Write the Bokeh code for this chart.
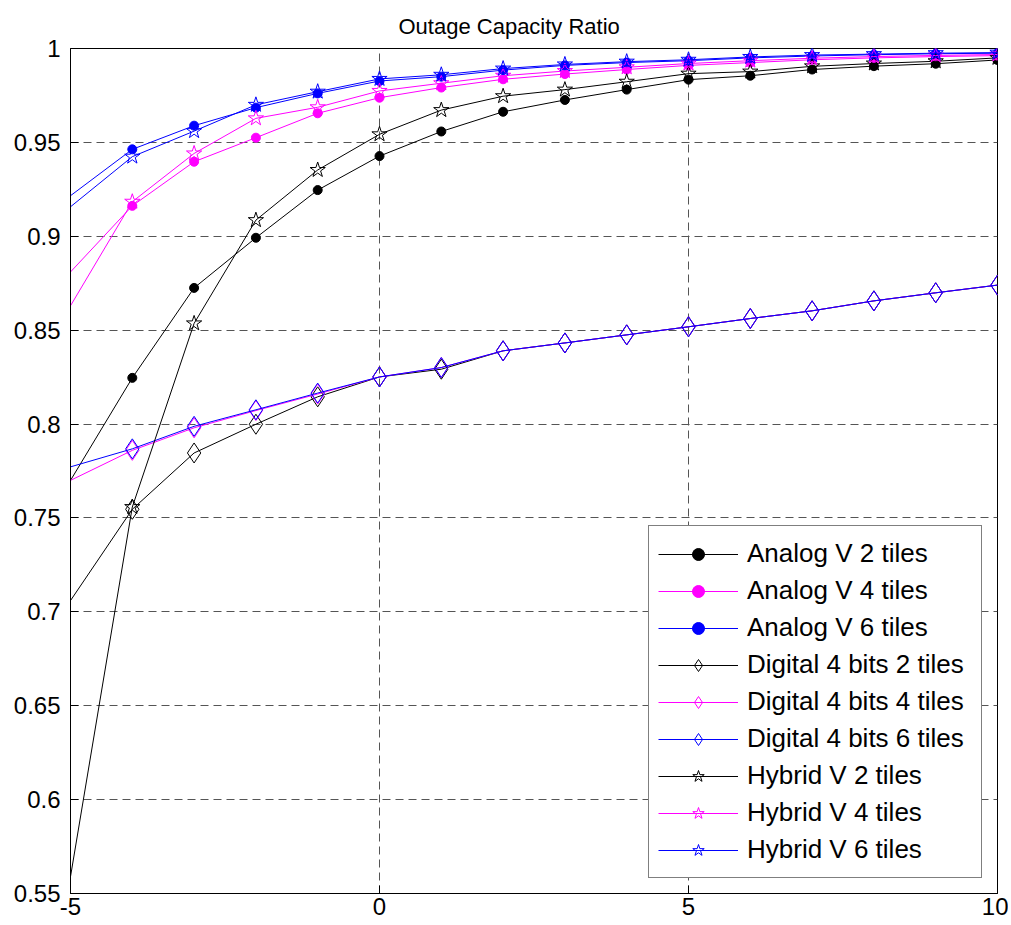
from bokeh.plotting import figure
from bokeh.models import Range1d, FixedTicker, PrintfTickFormatter
from bokeh.embed import file_html
from bokeh.resources import INLINE

# ---- data ----
# Lines enter the plot at the left edge (x = -5); markers are visible from x = -4 on.
snr = [-5, -4, -3, -2, -1, 0, 1, 2, 3, 4, 5, 6, 7, 8, 9, 10]

analog_v2 = [0.770, 0.8246, 0.8725, 0.8992, 0.9246, 0.9427, 0.9558, 0.9663, 0.9726, 0.9781,
             0.9834, 0.9855, 0.9888, 0.9906, 0.9919, 0.9939]
analog_v4 = [0.881, 0.9162, 0.9397, 0.9525, 0.9655, 0.9738, 0.9792, 0.9836, 0.9864, 0.9888,
             0.9910, 0.9925, 0.9940, 0.9950, 0.9957, 0.9962]
analog_v6 = [0.9216, 0.9463, 0.9589, 0.9685, 0.9761, 0.9827, 0.9850, 0.9885, 0.9910, 0.9925,
             0.9935, 0.9950, 0.9960, 0.9967, 0.9972, 0.9975]

digital_2 = [0.706, 0.7546, 0.7846, 0.7999, 0.8145, 0.8251, 0.8292, 0.8390, 0.8432, 0.8475,
             0.8518, 0.8562, 0.8603, 0.8656, 0.8699, 0.8740]
digital_4 = [0.770, 0.7860, 0.7980, 0.8072, 0.8160, 0.8251, 0.8301, 0.8390, 0.8432, 0.8475,
             0.8518, 0.8562, 0.8603, 0.8656, 0.8699, 0.8740]
digital_6 = [0.7772, 0.7868, 0.7988, 0.8076, 0.8165, 0.8251, 0.8301, 0.8390, 0.8432, 0.8475,
             0.8518, 0.8562, 0.8603, 0.8656, 0.8699, 0.8740]

hybrid_v2 = [0.559, 0.7558, 0.8536, 0.9086, 0.9353, 0.9543, 0.9672, 0.9746, 0.9781, 0.9823,
             0.9866, 0.9877, 0.9905, 0.9920, 0.9932, 0.9950]
hybrid_v4 = [0.863, 0.9184, 0.9441, 0.9628, 0.9687, 0.9774, 0.9815, 0.9855, 0.9880, 0.9900,
             0.9920, 0.9935, 0.9948, 0.9957, 0.9963, 0.9968]
hybrid_v6 = [0.9157, 0.9424, 0.9560, 0.9700, 0.9770, 0.9838, 0.9860, 0.9893, 0.9915, 0.9930,
             0.9940, 0.9955, 0.9965, 0.9970, 0.9975, 0.9978]

x_ticks = [-5, 0, 5, 10]
y_ticks = [0.55, 0.6, 0.65, 0.7, 0.75, 0.8, 0.85, 0.9, 0.95, 1.0]

series = [
    ("Analog V 2 tiles", analog_v2, "black", "circle"),
    ("Analog V 4 tiles", analog_v4, "#FF00FF", "circle"),
    ("Analog V 6 tiles", analog_v6, "#0000FF", "circle"),
    ("Digital 4 bits 2 tiles", digital_2, "black", "diamond"),
    ("Digital 4 bits 4 tiles", digital_4, "#FF00FF", "diamond"),
    ("Digital 4 bits 6 tiles", digital_6, "#0000FF", "diamond"),
    ("Hybrid V 2 tiles", hybrid_v2, "black", "star"),
    ("Hybrid V 4 tiles", hybrid_v4, "#FF00FF", "star"),
    ("Hybrid V 6 tiles", hybrid_v6, "#0000FF", "star"),
]

FONT = "Liberation Sans"

p = figure(width=1008, height=924,
           x_range=Range1d(-5, 10), y_range=Range1d(0.55, 1.0),
           output_backend="svg", toolbar_location=None,
           title="Outage Capacity Ratio",
           min_border_left=70, min_border_right=11,
           min_border_top=48, min_border_bottom=31)

p.title.text_font = FONT
p.title.text_font_size = "22px"
p.title.text_font_style = "normal"
p.title.align = "left"
p.title.offset = 328
p.title.text_color = "black"
p.title.standoff = 20

p.background_fill_color = "white"
p.border_fill_color = "white"
p.outline_line_color = "black"
p.outline_line_width = 1
p.outline_line_alpha = 1

for ax, ticks in ((p.xaxis, x_ticks), (p.yaxis, y_ticks)):
    ax.ticker = FixedTicker(ticks=ticks)
    ax.major_tick_in = 8
    ax.major_tick_out = 0
    ax.minor_tick_in = 0
    ax.minor_tick_out = 0
    ax.axis_line_color = "black"
    ax.major_tick_line_color = "black"
    ax.major_label_text_font = FONT
    ax.major_label_text_font_size = "24px"
    ax.major_label_text_color = "black"

p.yaxis.formatter = PrintfTickFormatter(format="%g")
p.xaxis.formatter = PrintfTickFormatter(format="%g")
p.yaxis.major_label_standoff = 10
p.xaxis.major_label_standoff = 4

p.xgrid.ticker = FixedTicker(ticks=x_ticks)
p.ygrid.ticker = FixedTicker(ticks=y_ticks)
p.grid.grid_line_color = "#555555"
p.grid.grid_line_dash = "8 5"
p.grid.grid_line_width = 1

for label, ys, color, marker in series:
    p.line(snr, ys, line_color=color, line_width=1, legend_label=label)
    mx, my = snr[1:], ys[1:]
    if marker == "circle":
        p.scatter(mx, my, marker="circle", size=9, fill_color=color,
                  line_color=color, legend_label=label)
    elif marker == "diamond":
        p.scatter(mx, my, marker="diamond", size=20, fill_color=None,
                  line_color=color, line_width=1, legend_label=label)
    else:
        p.scatter(mx, my, marker="star", size=16, fill_color=None,
                  line_color=color, line_width=1, legend_label=label)

lg = p.legend[0]
lg.location = "bottom_right"
lg.margin = 15
lg.padding = 9
lg.spacing = 0
lg.glyph_width = 80
lg.glyph_height = 30
lg.label_height = 37
lg.label_width = 225
lg.label_standoff = 9
lg.label_text_font = FONT
lg.label_text_font_size = "26px"
lg.label_text_color = "black"
lg.border_line_color = "black"
lg.border_line_width = 1
lg.background_fill_color = "white"
lg.background_fill_alpha = 1

open("out.html", "w").write(file_html(p, INLINE))
